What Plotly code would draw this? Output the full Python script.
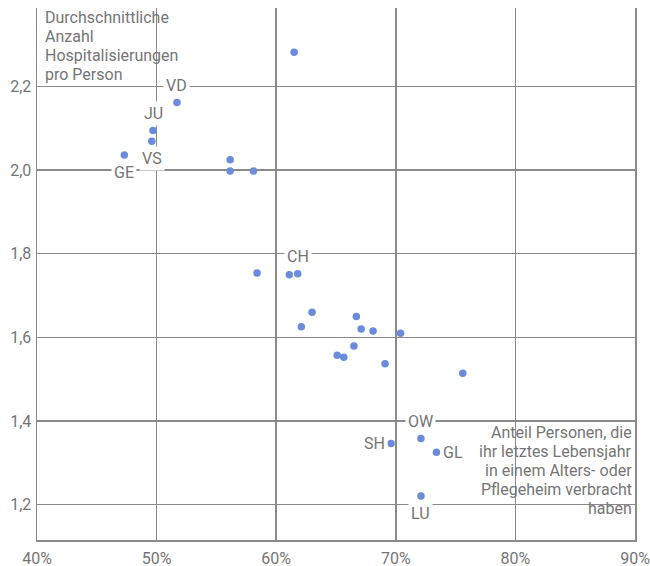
import plotly.graph_objects as go

# Anteil Personen im Alters-/Pflegeheim (%) und durchschnittliche Hospitalisierungen
share_pct = [61.5, 51.7, 49.7, 49.6, 47.3, 56.15, 56.15, 58.1, 58.4, 61.1, 61.8,
             63.0, 62.1, 66.7, 67.1, 68.1, 70.4, 66.5, 65.1, 65.65, 69.1, 75.6,
             69.6, 72.1, 73.4, 72.1]
hosp_avg = [2.282, 2.162, 2.095, 2.069, 2.036, 2.025, 1.998, 1.998, 1.754, 1.750, 1.752,
            1.660, 1.625, 1.650, 1.620, 1.615, 1.610, 1.579, 1.557, 1.552, 1.537, 1.514,
            1.346, 1.358, 1.325, 1.220]
labels = ["", "VD", "JU", "VS", "GE", "", "", "", "", "", "CH",
          "", "", "", "", "", "", "", "", "", "", "",
          "SH", "OW", "GL", "LU"]
# label placement relative to the dot: (dx, dy) in pixels
label_offsets = {"VD": (0, 17), "JU": (0, 17), "VS": (0, -17), "GE": (0, -17),
                 "CH": (0, 17), "OW": (0, 17), "SH": (-17, 0), "GL": (17, 0),
                 "LU": (0, -17)}

x_ticks = [40, 50, 60, 70, 80, 90]
x_ticktext = ["40%", "50%", "60%", "70%", "80%", "90%"]
y_ticks = [1.2, 1.4, 1.6, 1.8, 2.0, 2.2]

y_title_lines = ["Durchschnittliche", "Anzahl", "Hospitalisierungen", "pro Person"]
x_title_lines = ["Anteil Personen, die", "ihr letztes Lebensjahr", "in einem Alters- oder",
                 "Pflegeheim verbracht", "haben"]

TXT = "#757575"
GRID = "#8a8a8a"
FONT = "Roboto"
FS = 16
LINE_H = 19.1

fig = go.Figure()
fig.add_trace(go.Scatter(
    x=share_pct, y=hosp_avg, mode="markers",
    marker=dict(size=7.5, color="#6b8bdb", line=dict(width=0)),
    hoverinfo="x+y", showlegend=False,
))

annotations = []
for xv, yv, lab in zip(share_pct, hosp_avg, labels):
    if not lab:
        continue
    dx, dy = label_offsets[lab]
    annotations.append(dict(
        x=xv, y=yv, xref="x", yref="y", text=lab, showarrow=False,
        xanchor="center", yanchor="middle", xshift=dx, yshift=dy,
        font=dict(family=FONT, size=FS, color=TXT),
        bgcolor="white", borderpad=2,
    ))

for i, line in enumerate(y_title_lines):
    annotations.append(dict(
        x=0, y=1, xref="paper", yref="paper", text=line, showarrow=False,
        xanchor="left", yanchor="middle", align="left",
        xshift=6.5, yshift=-9.5 - i * LINE_H,
        font=dict(family=FONT, size=FS, color=TXT), borderpad=0,
    ))
n = len(x_title_lines)
for i, line in enumerate(x_title_lines):
    annotations.append(dict(
        x=1, y=0, xref="paper", yref="paper", text=line, showarrow=False,
        xanchor="right", yanchor="middle", align="right",
        xshift=-2, yshift=31.2 + (n - 1 - i) * LINE_H,
        font=dict(family=FONT, size=FS, color=TXT), borderpad=0,
    ))

shapes = [
    dict(type="rect", xref="paper", yref="paper", x0=0, x1=0.244, y0=0.8816, y1=1,
         fillcolor="white", line=dict(width=0), layer="between"),
    dict(type="rect", xref="paper", yref="paper", x0=0.7358, x1=1, y0=0.013, y1=0.2209,
         fillcolor="white", line=dict(width=0), layer="between"),
]

fig.update_layout(
    width=650, height=566,
    margin=dict(l=37, r=15, t=8, b=26, autoexpand=False),
    paper_bgcolor="white", plot_bgcolor="white",
    separators=", ",
    font=dict(family=FONT, size=FS, color=TXT),
    annotations=annotations, shapes=shapes,
    xaxis=dict(range=[40, 90], tickmode="array", tickvals=x_ticks, ticktext=x_ticktext,
               showgrid=True, gridcolor=GRID, gridwidth=1.5,
               showline=True, linecolor=GRID, linewidth=1.5,
               zeroline=False, ticks="", tickfont=dict(size=FS, color=TXT),
               ticklabelstandoff=3, ticklabeloverflow="allow",
               automargin=False, fixedrange=True),
    yaxis=dict(range=[1.115, 2.388], tickvals=y_ticks, tickformat=".1f",
               showgrid=True, gridcolor=GRID, gridwidth=1.5,
               showline=True, mirror=True, linecolor=GRID, linewidth=1.5,
               zeroline=False, ticks="", tickfont=dict(size=FS, color=TXT),
               ticklabelstandoff=1, ticklabeloverflow="allow",
               automargin=False, fixedrange=True),
)

page_fix = ("document.body.style.margin='0';"
            "document.body.style.overflow='hidden';"
            "document.documentElement.style.overflow='hidden';")
fig.write_html("out.html", post_script=page_fix,
               config={"displayModeBar": False, "staticPlot": True})
